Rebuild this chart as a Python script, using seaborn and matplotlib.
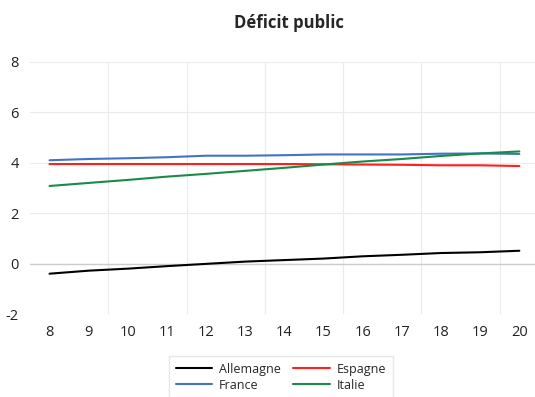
import matplotlib
matplotlib.use("Agg")
import matplotlib.pyplot as plt
import pandas as pd
import seaborn as sns

# data
years = [8, 9, 10, 11, 12, 13, 14, 15, 16, 17, 18, 19, 20]
allemagne = [-0.40, -0.28, -0.20, -0.10, -0.01, 0.08, 0.14, 0.20, 0.29, 0.35, 0.42, 0.45, 0.51]
espagne = [3.95, 3.95, 3.95, 3.95, 3.95, 3.95, 3.95, 3.94, 3.93, 3.92, 3.90, 3.90, 3.87]
france = [4.10, 4.15, 4.18, 4.22, 4.28, 4.28, 4.30, 4.33, 4.33, 4.33, 4.36, 4.37, 4.35]
italie = [3.08, 3.20, 3.32, 3.45, 3.56, 3.68, 3.80, 3.93, 4.05, 4.15, 4.27, 4.37, 4.45]

series = ["Allemagne", "Espagne", "France", "Italie"]
colors = ["#000000", "#ff1f1f", "#4472c4", "#1a8a48"]

df = pd.DataFrame({"year": years, "Allemagne": allemagne, "Espagne": espagne,
                   "France": france, "Italie": italie})
long_df = df.melt(id_vars="year", var_name="pays", value_name="deficit")

sns.set_style("white")
plt.rcParams['font.family'] = ['Open Sans', 'DejaVu Sans']
plt.rcParams['axes.unicode_minus'] = False

fig = plt.figure(figsize=(5.35, 3.97), dpi=100)
ax = fig.add_axes([0.056, 0.209, 0.944, 0.635])

sns.lineplot(data=long_df, x="year", y="deficit", hue="pays", hue_order=series,
             palette=colors, linewidth=1.5, ax=ax, legend=True)

ax.set_xlim(7.5, 20.4)
ax.set_ylim(-2, 8)
ax.set_xticks(years)
ax.set_xticks([9.5, 11.5, 13.5, 15.5, 17.5, 19.5], minor=True)
ax.set_yticks([-2, 0, 2, 4, 6, 8])
ax.tick_params(axis="both", which="both", length=0, labelsize=10.5, colors="#222222")
ax.tick_params(axis="x", pad=8)
ax.tick_params(axis="y", pad=8)
ax.grid(which="minor", axis="x", color="#ebebeb", linewidth=0.8)
ax.grid(which="major", axis="y", color="#ebebeb", linewidth=0.8)
ax.grid(which="major", axis="x", visible=False)
ax.axhline(0, color="#cccccc", linewidth=1, zorder=1)
ax.set_axisbelow(True)
for s in ax.spines.values():
    s.set_visible(False)
ax.set_xlabel("")
ax.set_ylabel("")

fig.suptitle("Déficit public", fontsize=12, fontweight="bold", x=0.54, y=0.965)

# Excel fills the legend row-wise: Allemagne, Espagne / France, Italie
handles, labels = ax.get_legend_handles_labels()
order = [0, 2, 1, 3]
ax.get_legend().remove()
leg = fig.legend([handles[i] for i in order], [labels[i] for i in order],
                 loc="lower center", bbox_to_anchor=(0.525, -0.02),
                 ncol=2, fontsize=9, frameon=True, fancybox=False,
                 handlelength=2.9, handletextpad=0.55, columnspacing=1.0,
                 labelspacing=0.25, borderpad=0.55)
leg.get_frame().set_edgecolor("#e3e3e3")
leg.get_frame().set_linewidth(1)

plt.savefig("out.png", dpi=100)
